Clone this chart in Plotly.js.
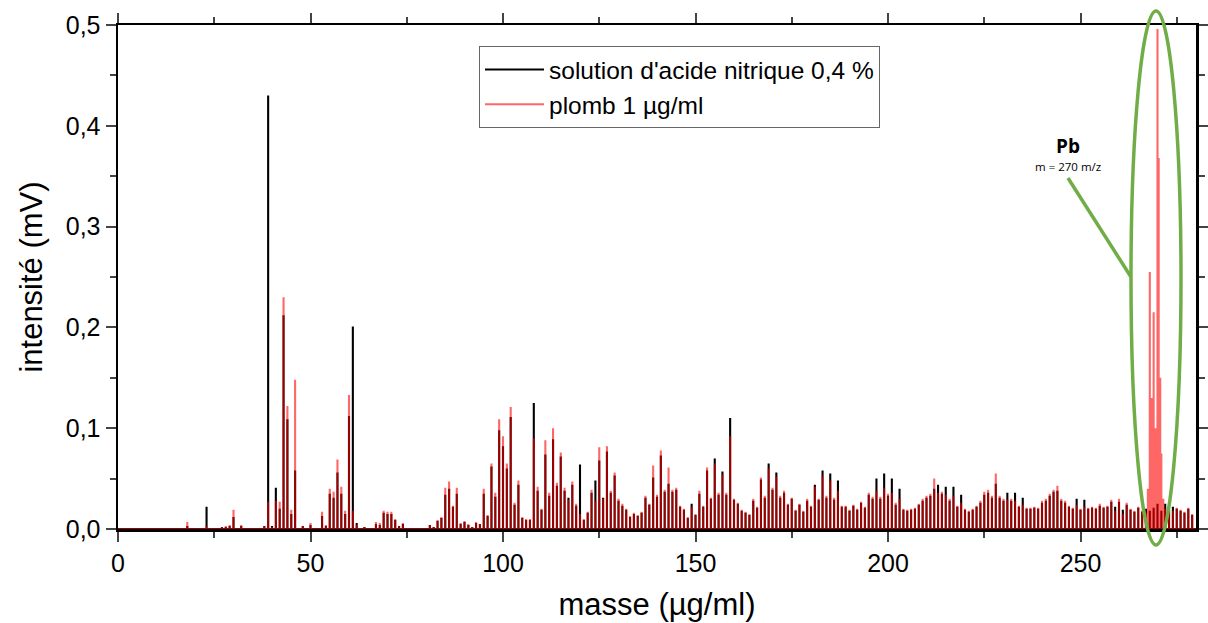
<!DOCTYPE html>
<html>
<head>
<meta charset="utf-8">
<script src="https://cdn.plot.ly/plotly-3.0.1.min.js"></script>
<style>html,body{margin:0;padding:0;background:#fff;}#chart{width:1208px;height:623px;}</style>
</head>
<body>
<div id="chart"></div>
<script>
// ---- data: peak masses and intensities (mV) ----
const acidMass = [18,23,27,28,29,30,32,38,39,40,41,42,43,44,45,46,48,50,53,54,55,56,57,58,59,60,61,62,64,67,68,69,70,71,72,73,74,81,82,83,84,85,86,87,88,89,90,91,92,93,94,95,96,97,98,99,100,101,102,103,104,105,106,107,108,109,110,111,112,113,114,115,116,117,118,119,120,121,122,123,124,125,126,127,128,129,130,131,132,133,134,135,136,137,138,139,140,141,142,143,144,145,146,147,148,149,150,151,152,153,154,155,156,157,158,159,160,161,162,163,164,165,166,167,168,169,170,171,172,173,174,175,176,177,178,179,180,181,182,183,184,185,186,187,188,189,190,191,192,193,194,195,196,197,198,199,200,201,202,203,204,205,206,207,208,209,210,211,212,213,214,215,216,217,218,219,220,221,222,223,224,225,226,227,228,229,230,231,232,233,234,235,236,237,238,239,240,241,242,243,244,245,246,247,248,249,250,251,252,253,254,255,256,257,258,259,260,261,262,263,264,265,266,267,268,269,270,271,272,273,274,275,276,277,278,279];
const acidInt = [0.003,0.022,0.002,0.002,0.003,0.012,0.003,0.003,0.430,0.003,0.041,0.020,0.212,0.109,0.015,0.058,0.003,0.004,0.013,0.003,0.035,0.031,0.056,0.035,0.015,0.112,0.201,0.006,0.002,0.005,0.004,0.016,0.015,0.015,0.009,0.003,0.005,0.004,0.002,0.008,0.011,0.034,0.040,0.022,0.035,0.005,0.007,0.004,0.002,0.006,0.005,0.035,0.013,0.062,0.032,0.098,0.082,0.060,0.111,0.024,0.044,0.011,0.009,0.009,0.125,0.038,0.019,0.074,0.033,0.089,0.043,0.072,0.038,0.031,0.044,0.023,0.064,0.009,0.016,0.036,0.048,0.068,0.031,0.077,0.036,0.053,0.028,0.023,0.019,0.012,0.015,0.013,0.016,0.031,0.024,0.051,0.032,0.073,0.037,0.045,0.037,0.039,0.022,0.019,0.011,0.025,0.014,0.035,0.022,0.058,0.030,0.070,0.034,0.057,0.034,0.110,0.029,0.025,0.018,0.016,0.014,0.028,0.021,0.049,0.031,0.065,0.039,0.056,0.031,0.036,0.024,0.030,0.018,0.024,0.017,0.028,0.022,0.044,0.029,0.058,0.031,0.055,0.029,0.048,0.022,0.022,0.018,0.023,0.019,0.026,0.021,0.034,0.030,0.050,0.030,0.055,0.033,0.050,0.024,0.040,0.019,0.018,0.019,0.020,0.024,0.028,0.031,0.033,0.040,0.044,0.035,0.042,0.028,0.042,0.022,0.034,0.019,0.017,0.019,0.022,0.026,0.034,0.036,0.031,0.045,0.031,0.028,0.036,0.028,0.036,0.022,0.031,0.020,0.020,0.021,0.020,0.026,0.028,0.033,0.037,0.038,0.028,0.026,0.022,0.020,0.030,0.019,0.029,0.020,0.021,0.020,0.023,0.021,0.022,0.027,0.022,0.027,0.019,0.024,0.019,0.017,0.021,0.017,0.020,0.018,0.021,0.025,0.018,0.025,0.019,0.022,0.020,0.018,0.016,0.020,0.014];

const leadMass = [18,23,27,28,29,30,32,38,39,40,41,42,43,44,45,46,48,50,53,54,55,56,57,58,59,60,61,62,64,67,68,69,70,71,72,73,74,81,82,83,84,85,86,87,88,89,90,91,92,93,94,95,96,97,98,99,100,101,102,103,104,105,106,107,108,109,110,111,112,113,114,115,116,117,118,119,120,121,122,123,124,125,126,127,128,129,130,131,132,133,134,135,136,137,138,139,140,141,142,143,144,145,146,147,148,149,150,151,152,153,154,155,156,157,158,159,160,161,162,163,164,165,166,167,168,169,170,171,172,173,174,175,176,177,178,179,180,181,182,183,184,185,186,187,188,189,190,191,192,193,194,195,196,197,198,199,200,201,202,203,204,205,206,207,208,209,210,211,212,213,214,215,216,217,218,219,220,221,222,223,224,225,226,227,228,229,230,231,232,233,234,235,236,237,238,239,240,241,242,243,244,245,246,247,248,249,250,251,252,253,254,255,256,257,258,259,260,261,262,263,264,265,266,267,267.5,268,268.5,269,269.5,270,270.3,270.7,271,271.5,272,273,274,275,276,277,278,279];
const leadInt = [0.007,0.003,0.002,0.003,0.004,0.019,0.004,0.003,0.027,0.002,0.028,0.027,0.230,0.122,0.019,0.148,0.003,0.006,0.017,0.004,0.040,0.037,0.069,0.042,0.018,0.133,0.018,0.004,0.002,0.007,0.006,0.018,0.017,0.017,0.010,0.003,0.006,0.004,0.002,0.009,0.012,0.041,0.047,0.023,0.041,0.006,0.008,0.005,0.002,0.007,0.005,0.040,0.014,0.065,0.036,0.109,0.092,0.065,0.121,0.026,0.048,0.012,0.010,0.010,0.090,0.042,0.020,0.088,0.036,0.100,0.046,0.076,0.041,0.029,0.047,0.025,0.015,0.010,0.017,0.039,0.028,0.081,0.030,0.082,0.038,0.056,0.030,0.025,0.020,0.013,0.016,0.014,0.017,0.033,0.025,0.063,0.034,0.078,0.039,0.061,0.039,0.041,0.023,0.020,0.012,0.022,0.015,0.038,0.023,0.061,0.031,0.065,0.036,0.054,0.036,0.092,0.030,0.026,0.019,0.017,0.015,0.030,0.022,0.051,0.033,0.060,0.041,0.052,0.033,0.038,0.025,0.031,0.019,0.025,0.018,0.030,0.023,0.042,0.030,0.053,0.033,0.048,0.031,0.038,0.023,0.023,0.019,0.024,0.020,0.027,0.022,0.036,0.032,0.038,0.032,0.041,0.035,0.036,0.026,0.030,0.020,0.019,0.020,0.021,0.025,0.030,0.033,0.035,0.050,0.036,0.037,0.034,0.030,0.033,0.023,0.026,0.020,0.018,0.020,0.023,0.028,0.037,0.039,0.033,0.055,0.033,0.030,0.029,0.030,0.028,0.023,0.024,0.021,0.021,0.022,0.021,0.028,0.030,0.035,0.039,0.043,0.030,0.028,0.023,0.021,0.024,0.020,0.022,0.021,0.022,0.021,0.025,0.022,0.023,0.029,0.018,0.030,0.015,0.026,0.020,0.018,0.022,0.018,0.016,0.040,0.255,0.130,0.215,0.100,0.496,0.368,0.150,0.075,0.030,0.020,0.019,0.018,0.021,0.019,0.017,0.021,0.015];

const seriesNames = ["solution d'acide nitrique 0,4 %", "plomb 1 µg/ml"];
const xTickVals = [0, 50, 100, 150, 200, 250];
const yTickVals = [0, 0.1, 0.2, 0.3, 0.4, 0.5];

// build stick spectrum path from peak lists
function sticks(ms, hs) {
  const x = [0], y = [0];
  for (let i = 0; i < ms.length; i++) {
    x.push(ms[i], ms[i], ms[i]);
    y.push(0, hs[i], 0);
  }
  x.push(280); y.push(0);
  return {x, y};
}
const a = sticks(acidMass, acidInt);
const l = sticks(leadMass, leadInt);

const FONT = "Liberation Sans, Arial, sans-serif";
const traces = [
  {type:'scatter', mode:'lines', name:seriesNames[0], x:a.x, y:a.y,
   line:{color:'#000000', width:2.1}, hoverinfo:'skip'},
  {type:'scatter', mode:'lines', name:seriesNames[1], x:l.x, y:l.y,
   line:{color:'rgba(255,0,0,0.6)', width:2.1}, hoverinfo:'skip'}
];

// pixel helpers -> paper coordinates for annotations/shapes
const PL=118, PR=1196, PT=25, PB=529;
const px = v => (v-PL)/(PR-PL);
const py = v => (PB-v)/(PB-PT);

const layout = {
  width:1208, height:623,
  margin:{l:PL, r:1208-PR, t:PT, b:623-PB, pad:0},
  paper_bgcolor:'#fff', plot_bgcolor:'#fff',
  separators:', ',
  font:{family:FONT, color:'#000'},
  showlegend:true,
  legend:{x:px(479), y:py(46), xanchor:'left', yanchor:'top',
    bgcolor:'#fff', bordercolor:'#666', borderwidth:1,
    font:{family:FONT, size:24.5, color:'#000'}, tracegroupgap:0, itemwidth:59},
  xaxis:{range:[0,280], tickvals:xTickVals, ticks:'outside', ticklen:10, tickwidth:2,
    showline:true, linewidth:2.5, linecolor:'#000', mirror:'ticks', showgrid:false, zeroline:false,
    tickfont:{family:FONT, size:25}, 
    minor:{dtick:25, tick0:0, ticks:'outside', ticklen:6, tickwidth:2, showgrid:false},
    title:{text:'masse (µg/ml)', font:{family:FONT, size:31}, standoff:18}},
  yaxis:{range:[0,0.5], tickvals:yTickVals, tickformat:'.1f', ticks:'outside', ticklen:10, tickwidth:2,
    showline:true, linewidth:2.5, linecolor:'#000', mirror:'ticks', showgrid:false, zeroline:false,
    tickfont:{family:FONT, size:25},
    minor:{dtick:0.05, tick0:0, ticks:'outside', ticklen:6, tickwidth:2, showgrid:false},
    title:{text:'intensité (mV)', font:{family:FONT, size:31}, standoff:14}},
  shapes:[
    {type:'circle', xref:'paper', yref:'paper', x0:px(1131), x1:px(1181), y0:py(545), y1:py(11),
     line:{color:'#70AD47', width:3.5}, layer:'above'},
    {type:'line', xref:'paper', yref:'paper', x0:px(1068), y0:py(178), x1:px(1131), y1:py(277),
     line:{color:'#70AD47', width:3.5}, layer:'above'}
  ],
  annotations:[
    {xref:'paper', yref:'paper', x:px(1068), y:py(146), xanchor:'center', yanchor:'middle',
     text:'<b>Pb</b>', showarrow:false,
     font:{family:'Open Sans, sans-serif', size:19, color:'#000'}},
    {xref:'paper', yref:'paper', x:px(1068), y:py(166), xanchor:'center', yanchor:'middle',
     text:'m = 270 m/z', showarrow:false,
     font:{family:'Open Sans, sans-serif', size:11.5, color:'#000'}}
  ]
};

Plotly.newPlot('chart', traces, layout, {staticPlot:true, displayModeBar:false});
</script>
</body>
</html>
